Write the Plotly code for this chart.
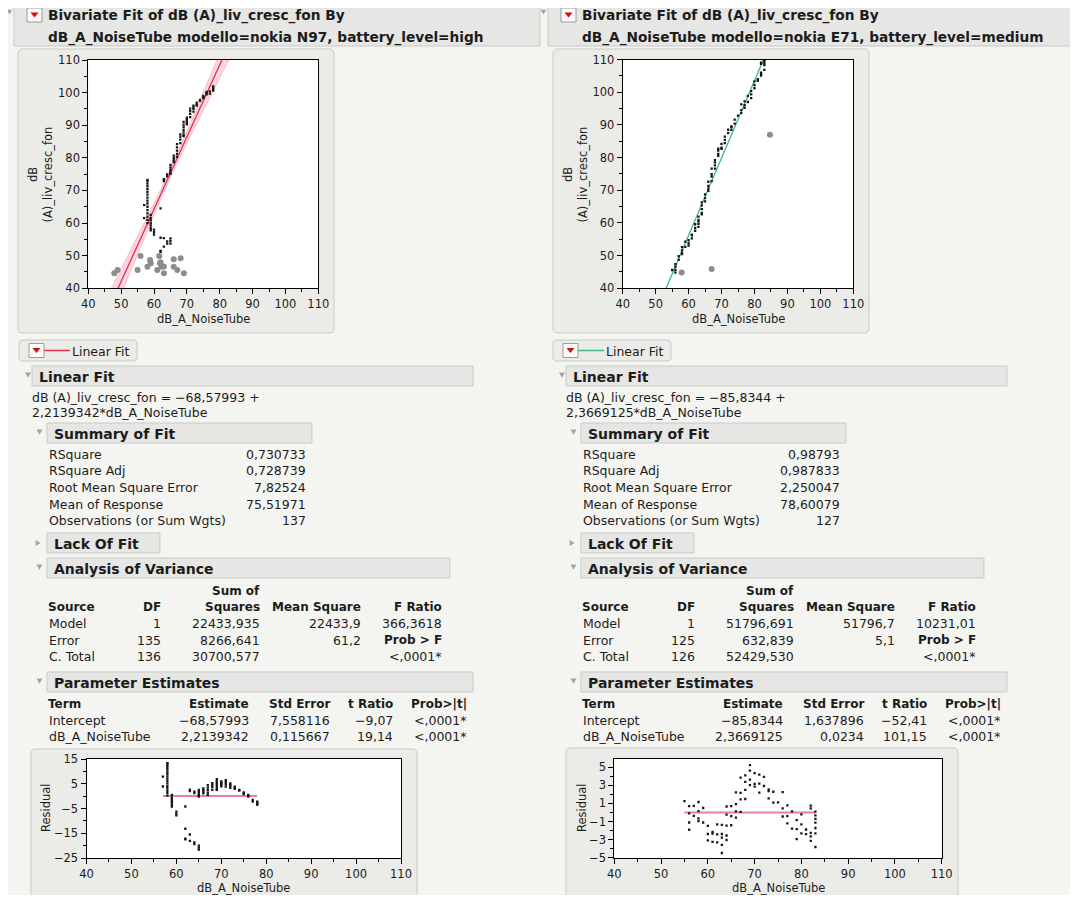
import numpy as np
import plotly.graph_objects as go

# The page body keeps an 8px margin, so the figure is sized to fit the window exactly.
W, H = 1078, 903
OX, OY = 8, 8
FW, FH = W - 2 * OX, H - 2 * OY
FONT = "DejaVu Sans"
TXT = "#1c1c1c"
BG = "#f4f4f1"
PANEL = "#ebebe8"
BAND = "#e6e6e4"
BORDER = "#c9c9c6"

# ---------------- Left report: modello=nokia N97, battery_level=high ----------------
n97_title = ["Bivariate Fit of dB (A)_liv_cresc_fon By",
             "dB_A_NoiseTube modello=nokia N97, battery_level=high"]
n97_x = [57, 57,
         58, 58, 58, 58, 58, 58, 58, 58, 58, 58, 58, 58, 58, 58, 58, 58,
         59, 59, 59, 59, 59, 59, 59,
         60, 60, 60,
         62, 62, 62, 62,
         63, 63, 63, 63,
         64, 64, 64, 64,
         65, 65, 65, 65, 65, 65, 65, 65,
         66, 66, 66, 66,
         67, 67, 67, 67, 67,
         68, 68, 68, 68,
         69, 69, 69, 69, 69, 69, 69,
         70, 70, 70, 70, 70,
         71, 71, 71, 71,
         72, 72, 72, 72,
         73, 73, 73,
         74, 74,
         75, 75, 75,
         76, 76, 76,
         77, 77,
         78, 78, 78, 78]
n97_y = [65.5, 61.5,
         60.0, 61.0, 62.0, 63.0, 64.0, 65.0, 66.0, 66.9, 67.8, 68.7, 69.6, 70.5, 71.3, 72.1, 72.9, 73.2,
         62.5, 61.5, 60.8, 60.0, 59.3, 58.5, 57.8,
         58.0, 57.2, 56.5,
         64.5, 55.5, 51.5, 51.2,
         73.5, 72.9, 55.4, 52.8,
         74.9, 74.3, 54.4, 53.7,
         77.8, 77.0, 76.2, 75.5, 75.1, 55.3, 54.5, 53.7,
         80.7, 80.0, 79.3, 78.7,
         84.2, 83.2, 82.2, 81.2, 80.3,
         87.2, 86.5, 85.6, 84.5,
         91.0, 90.2, 89.4, 88.6, 87.8, 87.0, 86.7,
         92.3, 91.8, 91.3, 90.8, 90.3,
         95.1, 94.3, 93.5, 92.5,
         96.0, 95.5, 95.0, 94.2,
         96.9, 96.4, 96.0,
         97.8, 97.5,
         99.0, 98.6, 98.3,
         100.2, 99.8, 99.5,
         100.4, 99.7,
         101.9, 101.4, 101.0, 100.6]
n97_excl_x = [47.9, 48.9, 55.0, 55.9, 58.0, 58.8, 59.0, 61.0, 61.6, 61.8, 62.0, 62.3, 63.0, 63.0,
              66.0, 66.0, 67.1, 68.1, 69.1]
n97_excl_y = [44.6, 45.6, 45.6, 49.9, 46.6, 48.7, 47.7, 45.6, 49.9, 47.7, 48.0, 46.6, 44.6, 46.7,
              48.9, 46.6, 45.6, 49.2, 44.6]
n97_intercept = -68.57993
n97_slope = 2.2139342
n97_rmse = 7.82524
n97_mean_resp = 75.51971
n97_nobs = 137
n97_se_slope = 0.115667
n97_t975 = 1.9777
n97_equation = ["dB (A)_liv_cresc_fon = \u221268,57993 +", "2,2139342*dB_A_NoiseTube"]
n97_summary = ["0,730733", "0,728739", "7,82524", "75,51971", "137"]
n97_anova_df = ["1", "135", "136"]
n97_anova_ss = ["22433,935", "8266,641", "30700,577"]
n97_anova_ms = ["22433,9", "61,2", ""]
n97_anova_f = ["366,3618", "Prob &gt; F", "&lt;,0001*"]
n97_est = ["\u221268,57993", "2,2139342"]
n97_se = ["7,558116", "0,115667"]
n97_t = ["\u22129,07", "19,14"]
n97_p = ["&lt;,0001*", "&lt;,0001*"]

# ---------------- Right report: modello=nokia E71, battery_level=medium ----------------
e71_title = ["Bivariate Fit of dB (A)_liv_cresc_fon By",
             "dB_A_NoiseTube modello=nokia E71, battery_level=medium"]
e71_x = [55,
         56, 56, 56, 56,
         57, 57,
         58, 58, 58, 58,
         59, 59,
         60, 60, 60,
         61, 61, 61,
         62, 62, 62,
         63, 63, 63, 63, 63,
         64, 64, 64, 64, 64,
         65, 65, 65,
         66, 66, 66, 66,
         67, 67, 67, 67,
         68, 68, 68, 68,
         69, 69, 69, 69,
         70, 70, 70,
         71, 71, 71,
         72, 72,
         73, 73, 73,
         74, 74,
         75,
         76, 76, 76,
         77, 77, 77,
         78, 78,
         79, 79, 79,
         80, 80, 80,
         81, 81,
         82, 82, 82, 82, 82,
         83, 83, 83, 83, 83, 83, 83]
e71_y = [45.6,
         47.4, 46.6, 45.6, 44.8,
         49.8, 48.7,
         52.6, 51.6, 50.8, 50.5,
         54.3, 52.7,
         54.7, 53.8, 53.1,
         56.4, 56.2, 55.3,
         59.6, 58.5, 57.6,
         61.9, 60.9, 60.5, 59.7, 58.8,
         66.3, 65.4, 64.2, 63.1, 62.6,
         68.7, 67.6, 66.6,
         72.6, 71.3, 70.5, 69.8,
         76.6, 74.9, 74.2, 72.8,
         79.2, 78.5, 77.6, 76.6,
         82.7, 82.1, 81.1, 80.5,
         84.2, 83.0, 82.7,
         86.4, 85.4, 84.4,
         88.5, 87.5,
         89.5, 89.3, 88.5,
         91.6, 90.4,
         92.8,
         96.3, 94.5, 93.6,
         97.2, 96.0, 95.2,
         98.9, 97.0,
         100.3, 99.3, 98.2,
         103.3, 102.2, 101.2,
         104.0, 103.5,
         109.0, 108.7, 106.0, 105.6, 105.1,
         110.7, 110.3, 109.9, 109.5, 108.9, 108.3, 106.8]
e71_excl_x = [57.9, 67.0, 84.7]
e71_excl_y = [44.8, 45.9, 87.0]
e71_intercept = -85.8344
e71_slope = 2.3669125
e71_equation = ["dB (A)_liv_cresc_fon = \u221285,8344 +", "2,3669125*dB_A_NoiseTube"]
e71_summary = ["0,98793", "0,987833", "2,250047", "78,60079", "127"]
e71_anova_df = ["1", "125", "126"]
e71_anova_ss = ["51796,691", "632,839", "52429,530"]
e71_anova_ms = ["51796,7", "5,1", ""]
e71_anova_f = ["10231,01", "Prob &gt; F", "&lt;,0001*"]
e71_est = ["\u221285,8344", "2,3669125"]
e71_se = ["1,637896", "0,0234"]
e71_t = ["\u221252,41", "101,15"]
e71_p = ["&lt;,0001*", "&lt;,0001*"]

summary_labels = ["RSquare", "RSquare Adj", "Root Mean Square Error", "Mean of Response",
                  "Observations (or Sum Wgts)"]
anova_sources = ["Model", "Error", "C. Total"]
anova_headers = ["Source", "DF", "Squares", "Mean Square", "F Ratio"]
param_terms = ["Intercept", "dB_A_NoiseTube"]
param_headers = ["Term", "Estimate", "Std Error", "t Ratio", "Prob&gt;|t|"]
scatter_ticks = [40, 50, 60, 70, 80, 90, 100, 110]
n97_resid_ticks = [-25, -15, -5, 5, 15]
e71_resid_ticks = [-5, -3, -1, 1, 3, 5]

RED = "#e0304f"
TEAL = "#3db892"
RESLINE = "#ea7f93"
DOT = "#161616"
DOTSIZE = 2.3

# ---------------------------------------------------------------------------
shapes, annos = [], []


def px(x):
    return (x - OX) / FW


def py(y):
    return 1 - (y - OY) / FH


def rect(x0, y0, x1, y1, fill, line=None, lw=1, r=0, layer="below"):
    if r == 0:
        shapes.append(dict(type="rect", xref="paper", yref="paper", x0=px(x0), x1=px(x1),
                           y0=py(y1), y1=py(y0), fillcolor=fill,
                           line=dict(color=line or fill, width=lw if line else 0), layer=layer))
    else:
        pts = lambda x, y: f"{px(x):.5f},{py(y):.5f}"
        path = (f"M {pts(x0 + r, y0)} L {pts(x1 - r, y0)} Q {pts(x1, y0)} {pts(x1, y0 + r)} "
                f"L {pts(x1, y1 - r)} Q {pts(x1, y1)} {pts(x1 - r, y1)} L {pts(x0 + r, y1)} "
                f"Q {pts(x0, y1)} {pts(x0, y1 - r)} L {pts(x0, y0 + r)} Q {pts(x0, y0)} {pts(x0 + r, y0)} Z")
        shapes.append(dict(type="path", xref="paper", yref="paper", path=path, fillcolor=fill,
                           line=dict(color=line or fill, width=lw if line else 0), layer=layer))


def poly(points, fill):
    path = "M " + " L ".join(f"{px(x):.5f},{py(y):.5f}" for x, y in points) + " Z"
    shapes.append(dict(type="path", xref="paper", yref="paper", path=path, fillcolor=fill,
                       line=dict(width=0), layer="above"))


def hline(x0, x1, y, color, w=1.5):
    shapes.append(dict(type="line", xref="paper", yref="paper", x0=px(x0), x1=px(x1),
                       y0=py(y), y1=py(y), line=dict(color=color, width=w), layer="above"))


def text(x, y, s, size=12.5, bold=False, anchor="left", color=TXT, angle=0):
    annos.append(dict(xref="paper", yref="paper", x=px(x), y=py(y), text=s, showarrow=False,
                      xanchor=anchor, yanchor="middle", borderpad=0,
                      font=dict(family=FONT, size=size, color=color,
                                weight="bold" if bold else "normal"),
                      textangle=angle))


def down_tri(cx, cy, s=3):
    poly([(cx - s, cy - s * 0.8), (cx + s, cy - s * 0.8), (cx, cy + s * 0.9)], "#a3a3a3")


def right_tri(cx, cy, s=3):
    poly([(cx - s * 0.8, cy - s), (cx - s * 0.8, cy + s), (cx + s * 0.9, cy)], "#a3a3a3")


def dropdown(x0, y0):
    rect(x0, y0, x0 + 15, y0 + 14, "#fafafa", "#9c9c9c", 1, layer="above")
    poly([(x0 + 3.5, y0 + 4.5), (x0 + 11.5, y0 + 4.5), (x0 + 7.5, y0 + 9.5)], "#cc1111")


def section(dx, x0, x1, y0, y1, label, tri_x, closed=False):
    rect(dx + x0, y0, dx + x1, y1, BAND, BORDER, 1)
    if closed:
        right_tri(dx + tri_x, (y0 + y1) / 2)
    else:
        down_tri(dx + tri_x, (y0 + y1) / 2 - 1)
    text(dx + x0 + 6, (y0 + y1) / 2 + 1, label, size=14, bold=True)


def report(dx, title, line_color, equation, summary, a_df, a_ss, a_ms, a_f,
           est, se, tr, pv, sc_panel, res_panel):
    # header
    rect(dx + 14, 3, dx + 540, 46, BAND, BORDER, 1)
    down_tri(dx + 9.5, 12, 2.8)
    dropdown(dx + 27, 8)
    text(dx + 47, 16, title[0], size=13.7, bold=True)
    text(dx + 47, 37, title[1], size=13.7, bold=True)
    # plot panels
    rect(sc_panel[0], sc_panel[1], sc_panel[2], sc_panel[3], PANEL, BORDER, 1, r=5)
    rect(res_panel[0], res_panel[1], res_panel[2], res_panel[3], PANEL, BORDER, 1, r=5)
    # legend button
    rect(dx + 19, 340, dx + 137, 361, PANEL, BORDER, 1, r=4)
    dropdown(dx + 29, 343.5)
    hline(dx + 44, dx + 70, 350.5, line_color, 1.5)
    text(dx + 71, 351, "Linear Fit", size=12.5)
    # Linear fit section
    section(dx, 32, 473, 366, 386, "Linear Fit", 28)
    text(dx + 31, 397, equation[0])
    text(dx + 31, 413, equation[1])
    # summary of fit
    section(dx, 47, 312, 423, 443, "Summary of Fit", 39.5)
    for i, (lab, val) in enumerate(zip(summary_labels, summary)):
        yy = 454 + i * 16.7
        text(dx + 48, yy, lab)
        text(dx + 307, yy, val, anchor="right")
    # lack of fit
    section(dx, 47, 160, 533, 553, "Lack Of Fit", 38, closed=True)
    # analysis of variance
    section(dx, 47, 450, 558, 578, "Analysis of Variance", 39.5)
    text(dx + 261, 591, "Sum of", size=12, bold=True, anchor="right")
    hx = [47, 162, 261, 362, 443]
    for j, hdr in enumerate(anova_headers):
        text(dx + hx[j], 607, hdr, size=12, bold=True, anchor="left" if j == 0 else "right")
    for i, src in enumerate(anova_sources):
        yy = 623.5 + i * 16.7
        text(dx + 48, yy, src)
        text(dx + 162, yy, a_df[i], anchor="right")
        text(dx + 261, yy, a_ss[i], anchor="right")
        if a_ms[i]:
            text(dx + 362, yy, a_ms[i], anchor="right")
        text(dx + 443, yy, a_f[i], anchor="right", bold=(i == 1), size=12 if i == 1 else 12.5)
    # parameter estimates
    section(dx, 47, 473, 672, 692, "Parameter Estimates", 39.5)
    px_cols = [47, 250, 331, 394, 468]
    for j, hdr in enumerate(param_headers):
        text(dx + px_cols[j], 703.5, hdr, size=12, bold=True, anchor="left" if j == 0 else "right")
    for i, term in enumerate(param_terms):
        yy = 720 + i * 16.7
        text(dx + 48, yy, term)
        text(dx + 250, yy, est[i], anchor="right")
        text(dx + 331, yy, se[i], anchor="right")
        text(dx + 394, yy, tr[i], anchor="right")
        text(dx + 468, yy, pv[i], anchor="right")


report(0, n97_title, RED, n97_equation, n97_summary, n97_anova_df, n97_anova_ss, n97_anova_ms,
       n97_anova_f, n97_est, n97_se, n97_t, n97_p, (18, 49, 334, 333), (31, 749, 417, 915))
report(534, e71_title, TEAL, e71_equation, e71_summary, e71_anova_df, e71_anova_ss, e71_anova_ms,
       e71_anova_f, e71_est, e71_se, e71_t, e71_p, (553, 49, 869, 333), (566, 748, 958, 915))

# plot areas (window pixel boxes: x0, y0, x1, y1)
areas = {
    "1": (88.3, 60, 318.3, 288.3),
    "2": (622.7, 59.5, 853.3, 288.3),
    "3": (86.5, 759, 401, 858),
    "4": (614.3, 759, 941.7, 857.7),
}
for k, (x0, y0, x1, y1) in areas.items():
    rect(x0, y0, x1, y1, "white")

# axis titles
text(33, 175, "dB", size=11.5, anchor="center", angle=-90)
text(47.5, 175, "(A)_liv_cresc_fon", size=11.5, anchor="center", angle=-90)
text(203, 319, "dB_A_NoiseTube", size=11.5, anchor="center")
text(568, 175, "dB", size=11.5, anchor="center", angle=-90)
text(582.5, 175, "(A)_liv_cresc_fon", size=11.5, anchor="center", angle=-90)
text(738, 319, "dB_A_NoiseTube", size=11.5, anchor="center")
text(46, 808, "Residual", size=11.5, anchor="center", angle=-90)
text(243, 887.5, "dB_A_NoiseTube", size=11.5, anchor="center")
text(582, 808, "Residual", size=11.5, anchor="center", angle=-90)
text(778, 887.5, "dB_A_NoiseTube", size=11.5, anchor="center")

fig = go.Figure()

# ---- left scatter: confidence band + fit + points ----
xs = np.linspace(40, 110, 141)
fit_n97 = n97_intercept + n97_slope * xs
xbar = (n97_mean_resp - n97_intercept) / n97_slope
sxx = (n97_rmse / n97_se_slope) ** 2
half = n97_t975 * n97_rmse * np.sqrt(1.0 / n97_nobs + (xs - xbar) ** 2 / sxx)
fig.add_trace(go.Scatter(x=np.concatenate([xs, xs[::-1]]),
                         y=np.concatenate([fit_n97 + half, (fit_n97 - half)[::-1]]),
                         fill="toself", fillcolor="rgba(240,120,145,0.30)", mode="lines",
                         line=dict(width=0.6, color="rgba(235,110,135,0.55)"),
                         xaxis="x", yaxis="y", hoverinfo="skip"))
fig.add_trace(go.Scatter(x=xs, y=fit_n97, mode="lines", line=dict(color=RED, width=1.3),
                         xaxis="x", yaxis="y"))
fig.add_trace(go.Scatter(x=n97_excl_x, y=n97_excl_y, mode="markers",
                         marker=dict(size=6, color="#8d8d8d"), xaxis="x", yaxis="y"))
fig.add_trace(go.Scatter(x=n97_x, y=n97_y, mode="markers",
                         marker=dict(size=DOTSIZE, symbol="square", color=DOT), xaxis="x", yaxis="y"))

# ---- right scatter ----
fit_e71 = e71_intercept + e71_slope * xs
fig.add_trace(go.Scatter(x=xs, y=fit_e71, mode="lines", line=dict(color=TEAL, width=1.3),
                         xaxis="x2", yaxis="y2"))
fig.add_trace(go.Scatter(x=e71_excl_x, y=e71_excl_y, mode="markers",
                         marker=dict(size=6, color="#8d8d8d"), xaxis="x2", yaxis="y2"))
fig.add_trace(go.Scatter(x=e71_x, y=e71_y, mode="markers",
                         marker=dict(size=DOTSIZE, symbol="square", color=DOT), xaxis="x2", yaxis="y2"))

# ---- residual plots ----
n97_res = np.array(n97_y) - (n97_intercept + n97_slope * np.array(n97_x))
e71_res = np.array(e71_y) - (e71_intercept + e71_slope * np.array(e71_x))
fig.add_trace(go.Scatter(x=[min(n97_x), max(n97_x)], y=[0, 0], mode="lines",
                         line=dict(color=RESLINE, width=2), xaxis="x3", yaxis="y3"))
fig.add_trace(go.Scatter(x=n97_x, y=n97_res, mode="markers",
                         marker=dict(size=DOTSIZE, symbol="square", color=DOT), xaxis="x3", yaxis="y3"))
fig.add_trace(go.Scatter(x=[min(e71_x), max(e71_x)], y=[0, 0], mode="lines",
                         line=dict(color=RESLINE, width=2), xaxis="x4", yaxis="y4"))
fig.add_trace(go.Scatter(x=e71_x, y=e71_res, mode="markers",
                         marker=dict(size=DOTSIZE, symbol="square", color=DOT), xaxis="x4", yaxis="y4"))


def axis(domain, rng, tickvals, minor, anchor):
    return dict(domain=domain, range=rng, anchor=anchor, showline=True, linecolor="black",
                linewidth=1, mirror=True, ticks="outside", ticklen=5, tickwidth=1, tickcolor="black",
                tickmode="array", tickvals=tickvals, showgrid=False, zeroline=False, automargin=False,
                tickfont=dict(family=FONT, size=11.5, color=TXT), fixedrange=True,
                minor=dict(tickmode="linear", tick0=0, dtick=minor, ticks="outside", ticklen=3,
                           tickcolor="black", showgrid=False))


lay = {}
names = {"1": ("xaxis", "yaxis", "x", "y"), "2": ("xaxis2", "yaxis2", "x2", "y2"),
         "3": ("xaxis3", "yaxis3", "x3", "y3"), "4": ("xaxis4", "yaxis4", "x4", "y4")}
yr = {"1": ([40, 110], scatter_ticks, 5), "2": ([40, 110], scatter_ticks, 5),
      "3": ([-25, 15], n97_resid_ticks, 5), "4": ([-5, 5.9], e71_resid_ticks, 1)}
for k, (xa, ya, xn, yn) in names.items():
    x0, y0, x1, y1 = areas[k]
    lay[xa] = axis([px(x0), px(x1)], [40, 110], scatter_ticks, 5, yn)
    rng, tv, mn = yr[k]
    lay[ya] = axis([py(y1), py(y0)], rng, tv, mn, xn)

fig.update_layout(width=FW, height=FH, margin=dict(l=0, r=0, t=0, b=0, pad=0, autoexpand=False),
                  showlegend=False, paper_bgcolor=BG, plot_bgcolor="rgba(0,0,0,0)",
                  shapes=shapes, annotations=annos, font=dict(family=FONT, color=TXT), **lay)
fig.write_html("out.html")
